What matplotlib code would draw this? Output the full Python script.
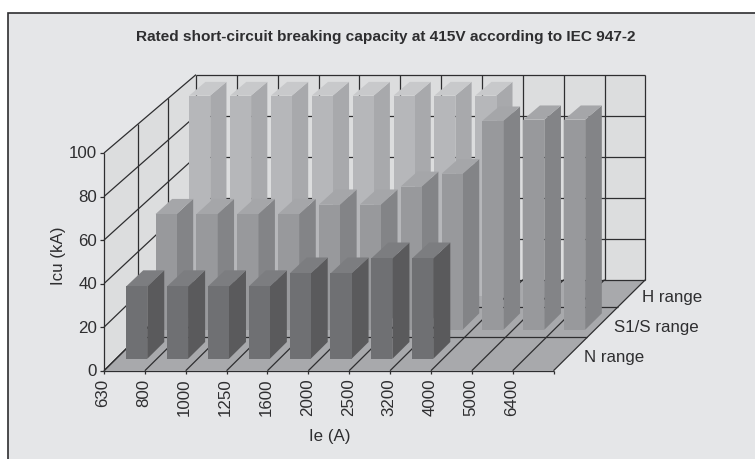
#!/usr/bin/env python3
# Oblique 3D bars, drawn by hand since Excel's projection is not what mplot3d gives
import numpy as np
import matplotlib
matplotlib.use('Agg')
import matplotlib.pyplot as plt
from matplotlib.patches import Polygon, Rectangle

plt.rcParams['font.family'] = ['Liberation Sans', 'DejaVu Sans']

currents = ['630', '800', '1000', '1250', '1600', '2000', '2500', '3200', '4000', '5000', '6400']
ranges = ['N range', 'S1/S range', 'H range']
yticks = [0, 20, 40, 60, 80, 100]

n_range = [33.5, 33.5, 33.5, 33.5, 39.5, 39.5, 46.5, 46.5]
s_range = [54.5, 54.5, 54.5, 54.5, 59, 59, 67.5, 73.5, 98.5, 99, 99]
h_range = [96.8, 96.8, 96.8, 96.8, 96.8, 96.8, 96.8, 96.8]

n_cols = ('#6f7073', '#5a5a5c', '#7c7d80')
s_cols = ('#98999c', '#838487', '#a5a6a9')
h_cols = ('#b6b7ba', '#a8a9ac', '#c8c9cb')
bg = '#e5e6e8'
wall = '#dcddde'
floor = '#a8a9ac'
dark = '#2e2e30'

# projection: category position, value, depth (0 front, 1 back) -> pixels
x0, y0 = 104.0, 371.7
cat_w = 449.5 / len(currents)


def shift(d):
    return 107.8 * d / (1 + 0.172 * d)


def project(c, v, d):
    px = x0 + c * cat_w + shift(d)
    py = y0 - shift(d) * 0.99 - v * 2.177 / (1 + 0.062 * d)
    return px, py


fig = plt.figure(figsize=(7.55, 4.6), dpi=100)
ax = fig.add_axes([0, 0, 1, 1])
ax.set_xlim(0, 755)
ax.set_ylim(460, 0)
ax.axis('off')

ax.add_patch(Rectangle((8, 14), 760, 460, fc=bg, ec=dark, lw=1.2, zorder=0))

ncat = len(currents)
ax.add_patch(Polygon([project(0, 0, 0), project(ncat, 0, 0), project(ncat, 0, 1), project(0, 0, 1)],
                     fc=floor, ec='none', zorder=1))
ax.add_patch(Polygon([project(0, 0, 0), project(0, 100, 0), project(0, 100, 1), project(0, 0, 1)],
                     fc=wall, ec='none', zorder=1))
ax.add_patch(Polygon([project(0, 0, 1), project(0, 100, 1), project(ncat, 100, 1), project(ncat, 0, 1)],
                     fc=wall, ec='none', zorder=1))


def line(a, b, lw=0.9, col=dark, z=2):
    ax.plot([a[0], b[0]], [a[1], b[1]], color=col, lw=lw, solid_capstyle='butt', zorder=z)


# gridlines on walls
for v in yticks:
    line(project(0, v, 0), project(0, v, 1))
    line(project(0, v, 1), project(ncat, v, 1))
for i in range(ncat + 1):
    line(project(i, 0, 1), project(i, 100, 1))
for d in (1 / 3, 2 / 3):
    line(project(0, 0, d), project(0, 100, d))
# gridlines on floor
for i in range(ncat + 1):
    line(project(i, 0, 0), project(i, 0, 1))
for d in (0, 1 / 3, 2 / 3):
    line(project(0, 0, d), project(ncat, 0, d))
line(project(0, 0, 0), project(0, 100, 0))

# bars, back series first
bar_off = 0.25
bar_w = 0.515
series = [(h_range, h_cols, 0.79, 0.99), (s_range, s_cols, 0.41, 0.592), (n_range, n_cols, 0.113, 0.282)]
z = 3
for vals, cols, d1, d2 in series:
    for i, v in enumerate(vals):
        l, r = i + bar_off, i + bar_off + bar_w
        ax.add_patch(Polygon([project(r, 0, d1), project(r, 0, d2), project(r, v, d2), project(r, v, d1)],
                             fc=cols[1], ec='none', zorder=z))
        ax.add_patch(Polygon([project(l, v, d1), project(r, v, d1), project(r, v, d2), project(l, v, d2)],
                             fc=cols[2], ec='none', zorder=z))
        ax.add_patch(Polygon([project(l, 0, d1), project(r, 0, d1), project(r, v, d1), project(l, v, d1)],
                             fc=cols[0], ec='none', zorder=z))
    z += 1

# ticks and labels
for v in yticks:
    px, py = project(0, v, 0)
    line((px - 4, py), (px, py))
    ax.text(px - 7, py, str(v), ha='right', va='center', fontsize=12.2, color=dark)
for i in range(ncat + 1):
    px, py = project(i, 0, 0)
    line((px, py), (px, py + 3))
for i, lab in enumerate(currents):
    px, py = project(i, 0, 0)
    ax.text(px - 1, py + 7, lab, rotation=90, ha='center', va='top', fontsize=12.2, color=dark)

for (lab, xp, yp) in zip(ranges, (584, 614, 642), (358, 328, 298)):
    ax.text(xp, yp, lab, ha='left', va='center', fontsize=12.2, color=dark)

ax.text(59, 256, 'Icu (kA)', rotation=90, ha='center', va='center', fontsize=12.2, color=dark)
ax.text(330, 437, 'Ie (A)', ha='center', va='center', fontsize=12.2, color=dark)
ax.text(386, 37, 'Rated short-circuit breaking capacity at 415V according to IEC 947-2',
        ha='center', va='center', fontsize=11.1, fontweight='bold', color=dark)

fig.savefig('out.png', dpi=100, facecolor='white')
